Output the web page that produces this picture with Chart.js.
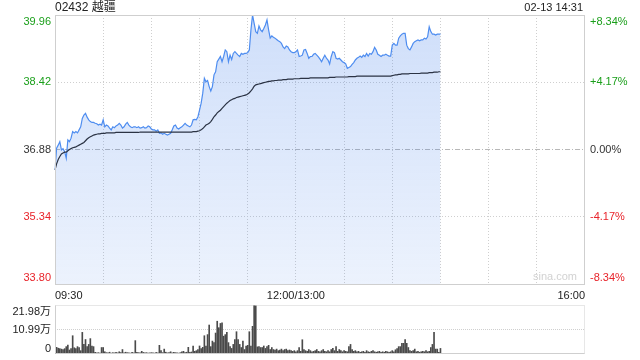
<!DOCTYPE html>
<html><head><meta charset="utf-8">
<script src="https://cdn.jsdelivr.net/npm/chart.js@4/dist/chart.umd.min.js"></script>
<style>
html,body{margin:0;padding:0;background:#fff;}
#wrap{position:relative;width:640px;height:360px;overflow:hidden;}
#c1{position:absolute;left:0;top:0;}
#c2{position:absolute;left:0;top:300px;}
</style></head><body>
<div id="wrap">
<canvas id="c1" width="640" height="300"></canvas>
<canvas id="c2" width="640" height="60"></canvas>
</div>
<script>
const stockTitle = '02432 越疆';
const stampText = '02-13 14:31';
const prevClose = 36.88;
const priceTicks = [33.80, 35.34, 36.88, 38.42, 39.96];
const pctTicks = ['-8.34%', '-4.17%', '0.00%', '+4.17%', '+8.34%'];
const volTicks = [0, 10.99, 21.98];
const volTickText = ['0', '10.99万', '21.98万'];
const xTickIndex = [0, 150, 330];
const xTickText = ['09:30', '12:00/13:00', '16:00'];

// minute categories: 09:30-12:00, 13:01-16:00
const categories = [];
(function(){
  const f = t => String(Math.floor(t/60)).padStart(2,'0') + ':' + String(t%60).padStart(2,'0');
  for (let t = 9*60+30; t <= 12*60; t++) categories.push(f(t));
  for (let t = 13*60+1; t <= 16*60; t++) categories.push(f(t));
})();

const price = [
36.41,36.91,36.98,37.06,36.87,36.90,36.83,36.68,37.10,37.06,
37.14,37.29,37.26,37.29,37.26,37.33,37.40,37.59,37.67,37.71,
37.62,37.56,37.52,37.50,37.50,37.48,37.47,37.44,37.46,37.44,
37.56,37.40,37.44,37.42,37.37,37.33,37.40,37.38,37.42,37.44,
37.48,37.44,37.37,37.40,37.46,37.50,37.44,37.40,37.38,37.40,
37.40,37.38,37.40,37.37,37.38,37.40,37.37,37.38,37.42,37.40,
37.35,37.33,37.33,37.30,37.33,37.25,37.26,37.23,37.25,37.23,
37.21,37.23,37.25,37.33,37.42,37.44,37.37,37.35,37.38,37.40,
37.44,37.48,37.44,37.42,37.40,37.44,37.56,37.57,37.56,37.63,
37.78,37.94,38.17,38.51,38.43,38.46,38.32,38.22,38.32,38.59,
38.66,38.89,38.95,39.01,38.89,39.01,39.16,39.12,38.89,39.04,
38.94,39.08,39.12,39.08,39.04,39.01,39.08,39.06,39.08,39.08,
39.10,39.16,39.62,39.96,39.77,39.58,39.54,39.71,39.62,39.58,
39.65,39.73,39.85,39.62,39.43,39.48,39.45,39.43,39.40,39.37,
39.35,39.31,39.23,39.19,39.25,39.23,39.16,39.12,39.10,39.10,
39.12,39.16,39.01,39.02,39.04,39.16,39.17,39.08,38.97,39.01,
39.01,39.06,39.08,39.04,39.00,38.95,38.89,38.97,39.04,38.97,
38.93,38.84,39.01,39.12,39.10,38.97,38.95,38.97,38.93,38.89,
38.87,38.84,38.74,38.76,38.78,38.83,38.87,38.93,38.97,38.99,
39.02,38.99,39.04,39.01,39.08,39.02,39.08,39.06,39.12,39.22,
39.16,39.06,39.04,39.01,39.04,39.04,39.06,39.04,39.02,39.02,
39.27,39.31,39.27,39.27,39.43,39.48,39.52,39.54,39.54,39.27,
39.19,39.16,39.23,39.31,39.35,39.37,39.39,39.37,39.39,39.39,
39.43,39.41,39.46,39.69,39.58,39.52,39.52,39.50,39.52,39.52,
39.52
];

const avgPrice = [
36.41,36.55,36.65,36.72,36.78,36.80,36.82,36.82,36.85,36.88,
36.90,36.92,36.93,36.94,36.96,36.98,37.00,37.02,37.04,37.08,
37.12,37.15,37.17,37.19,37.21,37.22,37.23,37.24,37.24,37.25,
37.25,37.25,37.26,37.26,37.26,37.26,37.26,37.26,37.27,37.27,
37.27,37.27,37.27,37.27,37.27,37.27,37.27,37.27,37.27,37.27,
37.27,37.27,37.27,37.28,37.28,37.28,37.28,37.28,37.28,37.28,
37.28,37.28,37.28,37.28,37.28,37.28,37.28,37.28,37.28,37.28,
37.28,37.28,37.28,37.28,37.28,37.28,37.28,37.28,37.28,37.28,
37.28,37.28,37.28,37.28,37.28,37.28,37.29,37.29,37.29,37.30,
37.31,37.33,37.36,37.40,37.44,37.46,37.48,37.52,37.57,37.63,
37.67,37.72,37.75,37.78,37.82,37.86,37.90,37.94,37.97,38.00,
38.02,38.04,38.05,38.07,38.08,38.09,38.10,38.11,38.12,38.13,
38.15,38.18,38.22,38.27,38.33,38.36,38.37,38.38,38.39,38.40,
38.41,38.42,38.43,38.44,38.44,38.45,38.45,38.46,38.46,38.47,
38.47,38.47,38.48,38.48,38.48,38.49,38.49,38.49,38.49,38.50,
38.50,38.50,38.50,38.51,38.51,38.51,38.51,38.51,38.51,38.52,
38.52,38.52,38.52,38.52,38.52,38.52,38.52,38.52,38.52,38.52,
38.52,38.53,38.53,38.53,38.53,38.54,38.54,38.54,38.54,38.54,
38.54,38.54,38.54,38.55,38.55,38.55,38.55,38.55,38.56,38.56,
38.56,38.56,38.56,38.56,38.56,38.56,38.56,38.56,38.56,38.56,
38.56,38.56,38.56,38.56,38.56,38.56,38.56,38.56,38.56,38.56,
38.57,38.58,38.59,38.59,38.60,38.60,38.61,38.61,38.61,38.61,
38.61,38.62,38.62,38.62,38.62,38.62,38.62,38.62,38.63,38.63,
38.63,38.63,38.63,38.64,38.64,38.64,38.65,38.65,38.65,38.66,
38.66
];

// volume in 万 shares
const volume = [
4.3,3.0,2.6,2.4,2.2,2.0,2.4,3.3,4.0,1.8,
2.4,8.2,2.8,2.4,3.3,2.9,1.5,9.7,4.3,6.5,
3.3,4.3,6.9,3.6,3.3,0.8,0.5,0.6,0.4,2.9,
2.9,1.0,0.6,0.5,0.8,0.4,0.6,0.5,0.7,0.5,
1.0,0.6,2.0,0.5,0.8,0.6,0.5,0.4,0.7,0.5,
6.0,0.8,0.6,0.5,1.2,0.7,0.5,0.6,0.4,0.5,
0.6,0.5,0.4,0.7,0.5,3.9,1.5,0.6,2.2,0.8,
0.5,0.6,1.0,0.5,0.8,0.6,0.5,0.4,0.6,1.0,
1.2,0.6,0.8,3.0,0.7,0.9,3.6,1.2,1.5,2.0,
3.6,2.4,3.0,8.2,3.5,8.7,13.0,3.3,5.8,5.1,
9.4,14.7,11.8,13.7,14.0,8.0,8.7,9.7,5.1,3.3,
2.5,4.3,6.5,10.0,6.5,4.3,2.9,5.8,2.0,3.6,
3.9,10.0,3.6,12.4,21.98,21.7,3.2,3.3,2.9,2.9,
3.6,2.5,3.3,3.9,2.0,2.9,2.0,1.8,2.2,1.5,
1.8,2.2,1.5,2.0,2.2,1.5,1.8,1.5,1.2,1.5,
1.0,1.5,2.9,1.2,6.4,2.0,1.5,1.2,2.0,1.5,
1.0,1.2,1.5,2.0,1.2,1.0,1.5,2.0,1.2,1.0,
1.5,1.0,2.0,2.5,1.5,3.3,1.2,2.0,1.5,1.0,
1.5,1.2,1.0,3.3,4.3,2.0,1.2,1.5,1.0,1.2,
0.8,1.0,1.2,0.8,1.5,1.0,0.8,1.2,1.5,1.0,
0.8,1.0,1.2,0.8,1.0,0.8,1.2,1.0,0.8,1.0,
1.5,1.0,1.9,2.4,3.3,3.3,4.8,4.8,6.5,4.8,
2.9,1.5,1.2,1.5,2.2,1.0,1.2,0.8,1.0,1.2,
1.0,1.5,1.0,1.2,2.9,4.3,9.7,2.2,2.2,0.7,
2.5
];

const FONT = '"Liberation Sans", Arial, "Noto Sans CJK SC", sans-serif';
const GREEN = '#1a9f1a';
const RED = '#e8232a';
const GRID = '#cfcfcf';

function colorFor(v) {
  if (Math.abs(v - prevClose) < 0.001) return '#333';
  return v > prevClose ? GREEN : RED;
}

const mainPlugin = {
  id: 'mainDeco',
  beforeDatasetsDraw(chart) {
    const {ctx, chartArea: a, scales: {y}} = chart;
    ctx.save();
    ctx.strokeStyle = '#b8b8b8';
    ctx.lineWidth = 1;
    ctx.setLineDash([5, 2, 1, 2]);
    const py = Math.round(y.getPixelForValue(prevClose)) + 0.5;
    ctx.beginPath(); ctx.moveTo(a.left, py); ctx.lineTo(a.right, py); ctx.stroke();
    ctx.setLineDash([]);
    ctx.font = '11px ' + FONT;
    ctx.fillStyle = '#d2d2d2';
    ctx.textAlign = 'right'; ctx.textBaseline = 'middle';
    ctx.fillText('sina.com', a.right - 8, a.bottom - 7);
    ctx.restore();
  },
  afterDraw(chart) {
    const {ctx, chartArea: a, scales: {y}} = chart;
    ctx.save();
    ctx.strokeStyle = GRID; ctx.lineWidth = 1;
    ctx.strokeRect(Math.round(a.left) + 0.5, Math.round(a.top) + 0.5, Math.round(a.right - a.left) - 1, Math.round(a.bottom - a.top));
    ctx.font = '11px ' + FONT;
    priceTicks.forEach((v, i) => {
      let py = y.getPixelForValue(v);
      let base = 'middle';
      if (i === priceTicks.length - 1) base = 'top';
      if (i === 0) base = 'bottom';
      ctx.textBaseline = base;
      const yy = base === 'top' ? py + 1 : (base === 'bottom' ? py - 1 : py);
      ctx.fillStyle = colorFor(v);
      ctx.textAlign = 'right';
      ctx.fillText(v.toFixed(2), a.left - 4, yy);
      ctx.textAlign = 'left';
      ctx.fillText(pctTicks[i], a.right + 5, yy);
    });
    ctx.fillStyle = '#222';
    ctx.textBaseline = 'middle';
    ctx.font = '12px ' + FONT;
    ctx.textAlign = 'left';
    ctx.fillText(stockTitle, a.left, 8);
    ctx.font = '11px ' + FONT;
    ctx.textAlign = 'right';
    ctx.fillText(stampText, a.right - 2, 8);
    ctx.restore();
  }
};

const c1 = new Chart(document.getElementById('c1'), {
  type: 'line',
  data: {
    labels: categories,
    datasets: [
      {
        label: 'avg', data: avgPrice, borderColor: '#2b3344', borderWidth: 1.2,
        pointRadius: 0, fill: false, order: 0, tension: 0
      },
      {
        label: 'price', data: price, borderColor: 'rgb(78,141,240)', borderWidth: 1.2,
        pointRadius: 0, order: 1, tension: 0, fill: 'start',
        backgroundColor: (ctx) => {
          const a = ctx.chart.chartArea;
          if (!a) return 'rgba(80,140,240,0.15)';
          const g = ctx.chart.ctx.createLinearGradient(0, a.top, 0, a.bottom);
          g.addColorStop(0, 'rgba(70,130,235,0.26)');
          g.addColorStop(1, 'rgba(70,130,235,0.10)');
          return g;
        }
      }
    ]
  },
  options: {
    responsive: false, animation: false,
    layout: { padding: { top: 15, left: 0, right: 55, bottom: 0 } },
    plugins: { legend: { display: false }, tooltip: { enabled: false } },
    scales: {
      x: {
        type: 'category', offset: false,
        afterFit: s => { s.height = 16; },
        border: { display: false, dash: [1, 2] },
        grid: {
          drawTicks: false,
          color: c => (c.index % 30 === 0 && c.index > 0 && c.index < 330) ? GRID : 'rgba(0,0,0,0)'
        },
        ticks: {
          autoSkip: false, maxRotation: 0, minRotation: 0, align: 'inner', padding: 5,
          color: '#222', font: { family: FONT, size: 11 },
          callback: (v, i) => { const k = xTickIndex.indexOf(i); return k >= 0 ? xTickText[k] : ''; }
        }
      },
      y: {
        min: priceTicks[0], max: priceTicks[priceTicks.length - 1],
        afterFit: s => { s.width = 55; },
        afterBuildTicks: s => { s.ticks = priceTicks.map(v => ({ value: v })); },
        border: { display: false, dash: [1, 2] },
        grid: {
          drawTicks: false,
          color: c => (c.index === 1 || c.index === 3) ? GRID : 'rgba(0,0,0,0)'
        },
        ticks: { display: false }
      }
    }
  },
  plugins: [mainPlugin]
});

const volPlugin = {
  id: 'volDeco',
  afterDraw(chart) {
    const {ctx, chartArea: a, scales: {y}} = chart;
    ctx.save();
    ctx.lineWidth = 1;
    const L = Math.round(a.left) + 0.5, R = Math.round(a.right) - 0.5;
    const T = Math.round(a.top) + 0.5, B = Math.round(a.bottom) - 0.5;
    ctx.strokeStyle = GRID;
    ctx.setLineDash([]);
    ctx.beginPath(); ctx.moveTo(L, T); ctx.lineTo(L, B); ctx.lineTo(R, B); ctx.stroke();
    ctx.setLineDash([1, 1]);
    ctx.beginPath(); ctx.moveTo(L, T); ctx.lineTo(R, T); ctx.lineTo(R, B); ctx.stroke();
    ctx.setLineDash([]);
    ctx.font = '11px ' + FONT;
    ctx.fillStyle = '#222';
    ctx.textAlign = 'right';
    volTicks.forEach((v, i) => {
      const py = y.getPixelForValue(v);
      let base = 'middle', yy = py;
      if (i === volTicks.length - 1) { base = 'top'; yy = py + 1; }
      if (i === 0) { base = 'bottom'; yy = py; }
      ctx.textBaseline = base;
      ctx.fillText(volTickText[i], a.left - 4, yy);
    });
    ctx.restore();
  }
};

const c2 = new Chart(document.getElementById('c2'), {
  type: 'bar',
  data: {
    labels: categories,
    datasets: [{ data: volume, backgroundColor: '#4a4a4a', barThickness: 1, borderWidth: 0 }]
  },
  options: {
    responsive: false, animation: false,
    layout: { padding: { top: 5, left: 0, right: 55, bottom: 6 } },
    plugins: { legend: { display: false }, tooltip: { enabled: false } },
    scales: {
      x: { type: 'category', offset: false, display: false },
      y: {
        min: 0, max: volTicks[volTicks.length - 1],
        afterFit: s => { s.width = 55; },
        afterBuildTicks: s => { s.ticks = volTicks.map(v => ({ value: v })); },
        border: { display: false, dash: [1, 1] },
        grid: { drawTicks: false, color: c => c.index === 1 ? GRID : 'rgba(0,0,0,0)' },
        ticks: { display: false }
      }
    }
  },
  plugins: [volPlugin]
});
</script>
</body></html>
